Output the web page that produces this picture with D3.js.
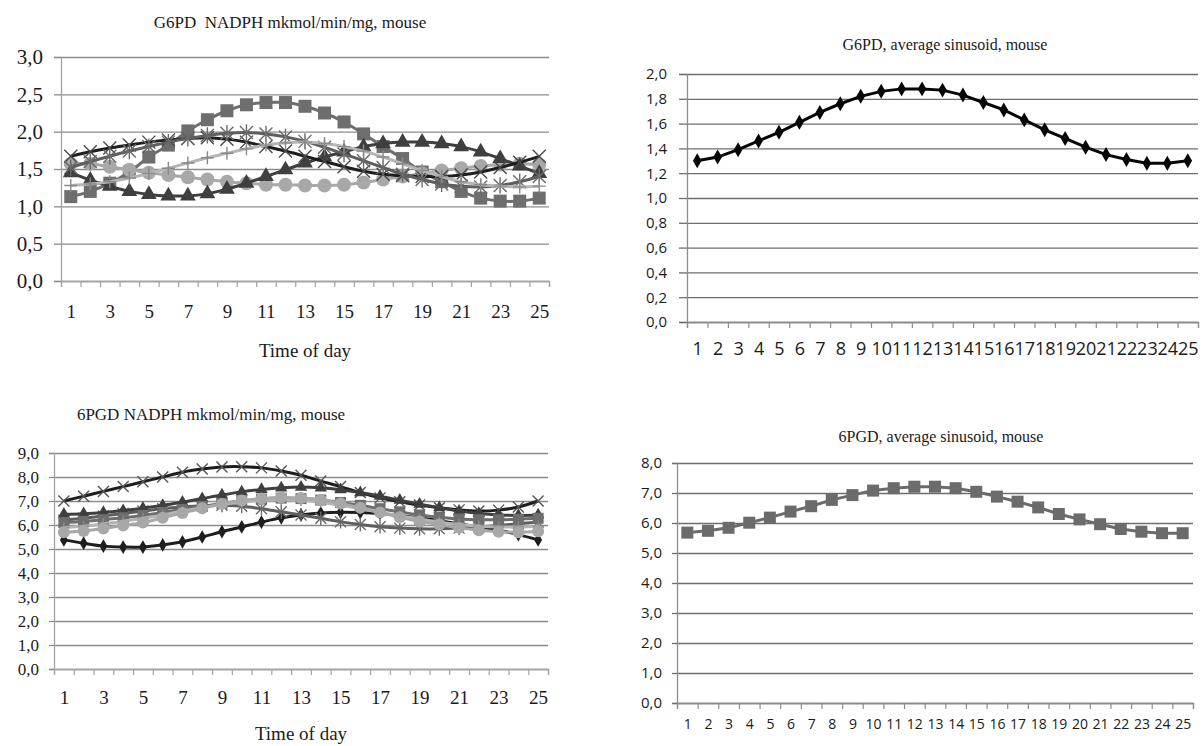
<!DOCTYPE html>
<html>
<head>
<meta charset="utf-8">
<script src="https://cdn.jsdelivr.net/npm/d3@7"></script>
<style>
body { margin: 0; background: #fff; overflow: hidden; }
</style>
</head>
<body>
<svg id="drawing_region" width="1203" height="746"></svg>
<script>
// time of day categories
const hours = [1, 2, 3, 4, 5, 6, 7, 8, 9, 10, 11, 12, 13, 14, 15, 16, 17, 18, 19, 20, 21, 22, 23, 24, 25];
const oddHours = [1, 3, 5, 7, 9, 11, 13, 15, 17, 19, 21, 23, 25];

// G6PD, individual sinusoids
const g6pdSquare   = [1.13, 1.20, 1.31, 1.46, 1.66, 1.82, 2.01, 2.16, 2.28, 2.36, 2.39, 2.39, 2.34, 2.25, 2.13, 1.97, 1.80, 1.64, 1.46, 1.33, 1.20, 1.11, 1.07, 1.07, 1.11];
const g6pdCircle   = [1.57, 1.57, 1.53, 1.49, 1.45, 1.42, 1.39, 1.36, 1.33, 1.31, 1.29, 1.29, 1.28, 1.28, 1.29, 1.32, 1.36, 1.40, 1.44, 1.48, 1.51, 1.54, 1.56, 1.57, 1.56];
const g6pdTriangle = [1.45, 1.35, 1.27, 1.20, 1.16, 1.14, 1.14, 1.17, 1.23, 1.31, 1.40, 1.49, 1.58, 1.66, 1.73, 1.80, 1.84, 1.86, 1.86, 1.84, 1.80, 1.73, 1.64, 1.54, 1.44];
const g6pdCross    = [1.67, 1.73, 1.78, 1.82, 1.86, 1.89, 1.91, 1.92, 1.90, 1.86, 1.80, 1.74, 1.67, 1.60, 1.53, 1.47, 1.43, 1.41, 1.40, 1.40, 1.42, 1.46, 1.52, 1.59, 1.67];
const g6pdStar     = [1.52, 1.60, 1.67, 1.74, 1.80, 1.86, 1.91, 1.95, 1.98, 1.99, 1.97, 1.93, 1.87, 1.79, 1.70, 1.61, 1.52, 1.43, 1.36, 1.30, 1.27, 1.26, 1.28, 1.33, 1.40];
const g6pdPlus     = [1.28, 1.30, 1.33, 1.38, 1.44, 1.51, 1.58, 1.65, 1.71, 1.77, 1.82, 1.85, 1.86, 1.84, 1.80, 1.74, 1.66, 1.57, 1.48, 1.40, 1.33, 1.29, 1.27, 1.26, 1.27];

// 6PGD, individual sinusoids
const pgdCross    = [7.00, 7.20, 7.40, 7.60, 7.80, 8.00, 8.20, 8.33, 8.42, 8.43, 8.38, 8.25, 8.07, 7.83, 7.60, 7.35, 7.13, 6.97, 6.83, 6.72, 6.63, 6.58, 6.62, 6.75, 7.00];
const pgdTriangle = [6.45, 6.47, 6.52, 6.60, 6.70, 6.82, 6.95, 7.10, 7.25, 7.38, 7.48, 7.55, 7.58, 7.55, 7.47, 7.35, 7.20, 7.03, 6.87, 6.72, 6.58, 6.48, 6.42, 6.40, 6.42];
const pgdSquare   = [6.10, 6.15, 6.22, 6.30, 6.40, 6.52, 6.65, 6.78, 6.90, 7.00, 7.08, 7.12, 7.10, 7.04, 6.94, 6.82, 6.68, 6.55, 6.42, 6.32, 6.25, 6.22, 6.22, 6.24, 6.28];
const pgdCircle   = [5.70, 5.75, 5.85, 5.98, 6.10, 6.30, 6.50, 6.70, 6.88, 7.02, 7.10, 7.15, 7.12, 7.04, 6.90, 6.72, 6.52, 6.32, 6.15, 6.02, 5.88, 5.78, 5.72, 5.70, 5.74];
const pgdStar     = [6.20, 6.28, 6.38, 6.48, 6.58, 6.68, 6.75, 6.80, 6.82, 6.78, 6.68, 6.55, 6.42, 6.28, 6.14, 6.02, 5.93, 5.87, 5.84, 5.84, 5.87, 5.92, 5.98, 6.05, 6.12];
const pgdPlus     = [5.90, 5.95, 6.05, 6.15, 6.28, 6.42, 6.58, 6.72, 6.85, 6.95, 7.02, 7.05, 7.02, 6.95, 6.82, 6.68, 6.52, 6.38, 6.25, 6.12, 6.02, 5.95, 5.92, 5.92, 5.95];
const pgdDiamond  = [5.38, 5.24, 5.12, 5.08, 5.08, 5.17, 5.30, 5.50, 5.72, 5.92, 6.12, 6.30, 6.42, 6.50, 6.53, 6.52, 6.48, 6.40, 6.30, 6.18, 6.05, 5.92, 5.78, 5.60, 5.38];

// average sinusoids
const g6pdMean = [1.30, 1.33, 1.39, 1.46, 1.53, 1.61, 1.69, 1.76, 1.82, 1.86, 1.88, 1.88, 1.87, 1.83, 1.77, 1.71, 1.63, 1.55, 1.48, 1.41, 1.35, 1.31, 1.28, 1.28, 1.30];
const pgdMean  = [5.68, 5.74, 5.84, 6.01, 6.18, 6.38, 6.56, 6.77, 6.93, 7.08, 7.16, 7.21, 7.21, 7.16, 7.04, 6.88, 6.71, 6.52, 6.30, 6.12, 5.96, 5.80, 5.71, 5.66, 5.66];

// y tick values
const g6pdTicks     = [0, 0.5, 1, 1.5, 2, 2.5, 3];
const pgdTicks      = [0, 1, 2, 3, 4, 5, 6, 7, 8, 9];
const g6pdMeanTicks = [0, 0.2, 0.4, 0.6, 0.8, 1, 1.2, 1.4, 1.6, 1.8, 2];
const pgdMeanTicks  = [0, 1, 2, 3, 4, 5, 6, 7, 8];

const svg = d3.select('#drawing_region');
const fmt = d3.formatLocale({decimal: ',', thousands: ' ', grouping: [3], currency: ['', '']}).format('.1f');

const SERIF = '"Liberation Serif", "Times New Roman", serif';
const SANS = '"Open Sans", "Liberation Sans", sans-serif';

function markerPath(type, size) {
    const r = size / 2;
    if (type === 'x') return `M${-r},${-r}L${r},${r}M${-r},${r}L${r},${-r}`;
    if (type === 'star') return `M${-r},${-r}L${r},${r}M${-r},${r}L${r},${-r}M0,${-r * 1.25}L0,${r * 1.25}`;
    if (type === 'plus') return `M${-r},0L${r},0M0,${-r}L0,${r}`;
    const sym = {square: d3.symbolSquare, circle: d3.symbolCircle, triangle: d3.symbolTriangle, diamond: d3.symbolDiamond}[type];
    const area = {square: size * size, circle: Math.PI * r * r, triangle: size * size * 0.55, diamond: size * size * 0.45}[type];
    return d3.symbol().type(sym).size(area)();
}

function drawPanel(p) {
    const x = d3.scaleLinear().domain([0.5, 25.5]).range([p.left, p.right]);
    const y = d3.scaleLinear().domain([0, p.yMax]).range([p.bottom, p.top]);
    const g = svg.append('g');

    // gridlines
    g.append('g')
        .attr('transform', `translate(${p.left},0)`)
        .call(d3.axisLeft(y).tickValues(p.yTicks).tickSize(-(p.right - p.left)).tickFormat(''))
        .call(s => s.select('.domain').remove())
        .call(s => s.selectAll('line').attr('stroke', p.gridColor).attr('stroke-width', 1.3));

    // y axis with labels
    g.append('g')
        .attr('transform', `translate(${p.left},0)`)
        .call(d3.axisLeft(y).tickValues(p.yTicks).tickSize(p.yTickSize).tickPadding(p.yPad).tickFormat(fmt))
        .call(s => s.select('.domain').attr('stroke', p.axisColor).attr('stroke-width', 1.3))
        .call(s => s.selectAll('line').attr('stroke', p.gridColor).attr('stroke-width', 1.3))
        .call(s => s.selectAll('text').attr('font-family', p.tickFont).attr('font-size', p.yFontSize).attr('fill', '#1a1a1a'));

    // x axis: ticks on category boundaries
    g.append('g')
        .attr('transform', `translate(0,${p.bottom})`)
        .call(d3.axisBottom(x).tickValues(hours.map(h => h - 0.5).concat([25.5])).tickSize(6).tickFormat(''))
        .call(s => s.select('.domain').attr('stroke', p.axisColor).attr('stroke-width', 1.3))
        .call(s => s.selectAll('line').attr('stroke', p.axisColor).attr('stroke-width', 1.2));

    // x axis labels
    g.append('g')
        .attr('transform', `translate(0,${p.bottom})`)
        .call(d3.axisBottom(x).tickValues(p.xLabels).tickSize(0).tickPadding(p.xPad).tickFormat(d3.format('d')))
        .call(s => s.select('.domain').remove())
        .call(s => s.selectAll('text').attr('font-family', p.tickFont).attr('font-size', p.xFontSize).attr('fill', '#1a1a1a'));

    // series
    const line = d3.line()
        .x((d, i) => x(hours[i]))
        .y(d => y(d))
        .curve(p.smooth ? d3.curveCatmullRom : d3.curveLinear);

    p.series.forEach(s => {
        g.append('path')
            .attr('d', line(s.values))
            .attr('fill', 'none')
            .attr('stroke', s.line)
            .attr('stroke-width', s.lineWidth || 3);

        const stroked = ['x', 'star', 'plus'].includes(s.marker);
        g.append('g').selectAll('path')
            .data(s.values)
            .join('path')
            .attr('transform', (d, i) => `translate(${x(hours[i])},${y(d)})`)
            .attr('d', markerPath(s.marker, s.size))
            .attr('fill', stroked ? 'none' : s.fill)
            .attr('stroke', stroked ? s.fill : 'none')
            .attr('stroke-width', stroked ? 1.4 : 0);
    });

    // titles
    g.append('text')
        .attr('x', p.titleX).attr('y', p.titleY)
        .attr('text-anchor', 'middle')
        .attr('font-family', SERIF).attr('font-size', p.titleSize).attr('fill', '#1a1a1a')
        .text(p.title);

    if (p.xTitle) {
        g.append('text')
            .attr('x', (p.left + p.right) / 2).attr('y', p.xTitleY)
            .attr('text-anchor', 'middle')
            .attr('font-family', SERIF).attr('font-size', 19).attr('fill', '#1a1a1a')
            .text(p.xTitle);
    }
}

drawPanel({
    left: 61, right: 549, top: 57, bottom: 281,
    yMax: 3, yTicks: g6pdTicks, yTickSize: 7, yPad: 11,
    xLabels: oddHours, xPad: 24, smooth: true,
    tickFont: SERIF, yFontSize: 21, xFontSize: 19,
    gridColor: '#8c8c8c', axisColor: '#a3a3a3',
    title: 'G6PD\u00a0 NADPH mkmol/min/mg, mouse', titleX: 290, titleY: 28, titleSize: 17,
    xTitle: 'Time of day', xTitleY: 357,
    series: [
        {values: g6pdSquare, marker: 'square', size: 13, fill: '#6e6e6e', line: '#6e6e6e'},
        {values: g6pdCircle, marker: 'circle', size: 14, fill: '#a8a8a8', line: '#a8a8a8'},
        {values: g6pdTriangle, marker: 'triangle', size: 14, fill: '#3f3f3f', line: '#3f3f3f'},
        {values: g6pdCross, marker: 'x', size: 13, fill: '#4a4a4a', line: '#1e1e1e'},
        {values: g6pdStar, marker: 'star', size: 13, fill: '#6a6a6a', line: '#5e5e5e'},
        {values: g6pdPlus, marker: 'plus', size: 13, fill: '#8a8a8a', line: '#b5b5b5'}
    ]
});

drawPanel({
    left: 54, right: 548, top: 453, bottom: 669,
    yMax: 9, yTicks: pgdTicks, yTickSize: 5, yPad: 10,
    xLabels: oddHours, xPad: 22, smooth: true,
    tickFont: SERIF, yFontSize: 17, xFontSize: 19,
    gridColor: '#8c8c8c', axisColor: '#a3a3a3',
    title: '6PGD NADPH mkmol/min/mg, mouse', titleX: 211, titleY: 420, titleSize: 17,
    xTitle: 'Time of day', xTitleY: 740,
    series: [
        {values: pgdDiamond, marker: 'diamond', size: 11, fill: '#1e1e1e', line: '#1e1e1e'},
        {values: pgdCross, marker: 'x', size: 11, fill: '#555555', line: '#1e1e1e'},
        {values: pgdStar, marker: 'star', size: 11, fill: '#6a6a6a', line: '#5e5e5e'},
        {values: pgdTriangle, marker: 'triangle', size: 11, fill: '#3f3f3f', line: '#3f3f3f'},
        {values: pgdSquare, marker: 'square', size: 11, fill: '#6e6e6e', line: '#6e6e6e'},
        {values: pgdPlus, marker: 'plus', size: 11, fill: '#8a8a8a', line: '#b5b5b5'},
        {values: pgdCircle, marker: 'circle', size: 12, fill: '#a8a8a8', line: '#a8a8a8'}
    ]
});

drawPanel({
    left: 687, right: 1198, top: 74, bottom: 322,
    yMax: 2, yTicks: g6pdMeanTicks, yTickSize: 8, yPad: 12,
    xLabels: hours, xPad: 20, smooth: false,
    tickFont: SANS, yFontSize: 15, xFontSize: 18,
    gridColor: '#6e6e6e', axisColor: '#8c8c8c',
    title: 'G6PD, average sinusoid, mouse', titleX: 945, titleY: 50, titleSize: 16,
    series: [
        {values: g6pdMean, marker: 'diamond', size: 12, fill: '#050505', line: '#050505'}
    ]
});

drawPanel({
    left: 677, right: 1193, top: 463, bottom: 703,
    yMax: 8, yTicks: pgdMeanTicks, yTickSize: 5, yPad: 10,
    xLabels: hours, xPad: 16, smooth: false,
    tickFont: SANS, yFontSize: 15, xFontSize: 14,
    gridColor: '#6e6e6e', axisColor: '#8c8c8c',
    title: '6PGD, average sinusoid, mouse', titleX: 941, titleY: 442, titleSize: 16,
    series: [
        {values: pgdMean, marker: 'square', size: 12, fill: '#6b6b6b', line: '#6b6b6b'}
    ]
});
</script>
</body>
</html>
